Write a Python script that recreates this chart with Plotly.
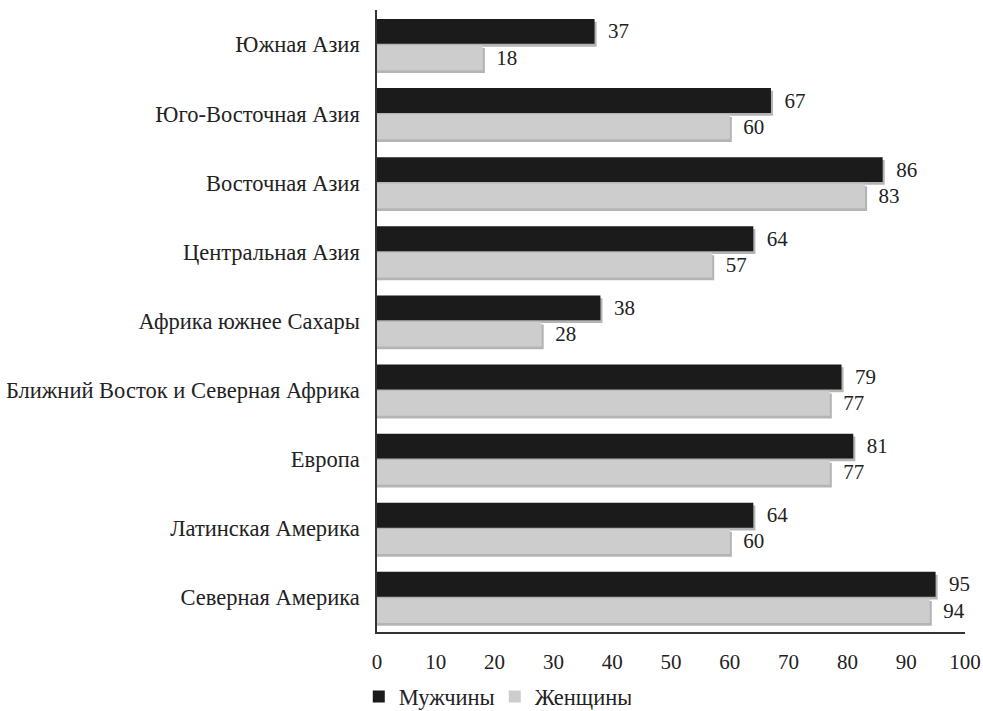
import plotly.graph_objects as go

categories = ["Южная Азия", "Юго-Восточная Азия", "Восточная Азия", "Центральная Азия",
              "Африка южнее Сахары", "Ближний Восток и Северная Африка", "Европа",
              "Латинская Америка", "Северная Америка"]
men = [37, 67, 86, 64, 38, 79, 81, 64, 95]
women = [18, 60, 83, 57, 28, 77, 77, 60, 94]
x_ticks = [0, 10, 20, 30, 40, 50, 60, 70, 80, 90, 100]

ypos = list(range(len(categories)))
FONT = "'Times New Roman', 'Liberation Serif', serif"
BW = 0.36
FS_NUM = 21
FS_TXT = 22.5

fig = go.Figure()
# soft shadows under the bars
for vals, off in [(men, -0.37), (women, 0.01)]:
    fig.add_trace(go.Bar(
        y=ypos, x=[v + 0.35 for v in vals], orientation="h",
        offset=off + 0.04, width=BW, base=0,
        marker=dict(color="rgba(40,40,40,0.35)", line=dict(width=0)),
        showlegend=False, hoverinfo="skip"))
fig.add_trace(go.Bar(
    y=ypos, x=men, orientation="h", name="Мужчины",
    offset=-0.37, width=BW,
    marker=dict(color="#1b1b1b", line=dict(width=0)),
    text=[str(v) for v in men], texttemplate="  %{text}", textposition="outside",
    textfont=dict(family=FONT, size=FS_NUM, color="#222"), cliponaxis=False))
fig.add_trace(go.Bar(
    y=ypos, x=women, orientation="h", name="Женщины",
    offset=0.01, width=BW,
    marker=dict(color="#cdcdcd", line=dict(width=0)),
    text=[str(v) for v in women], texttemplate="  %{text}", textposition="outside",
    textfont=dict(family=FONT, size=FS_NUM, color="#222"), cliponaxis=False))

fig.update_layout(
    width=983, height=711,
    margin=dict(l=377, r=18, t=10, b=79, autoexpand=False),
    barmode="overlay",
    plot_bgcolor="white", paper_bgcolor="white",
    font=dict(family=FONT, size=FS_TXT, color="#222"),
    showlegend=True,
    legend=dict(orientation="h", x=-0.031, xanchor="left", yref="container",
                y=0.02, yanchor="middle",
                font=dict(family=FONT, size=FS_TXT, color="#222"),
                traceorder="normal", itemwidth=30, entrywidth=91),
    xaxis=dict(range=[0, 100], tickvals=x_ticks, showgrid=False, zeroline=False,
               showline=True, linecolor="#333", linewidth=1.5, ticks="",
               tickfont=dict(family=FONT, size=FS_NUM, color="#222"), ticklabelstandoff=10),
    yaxis=dict(range=[8.5, -0.5], tickvals=ypos, ticktext=categories, showgrid=False,
               zeroline=False, showline=True, linecolor="#333", linewidth=1.5, ticks="",
               tickfont=dict(family=FONT, size=FS_TXT, color="#222"), ticklabelstandoff=11),
)

fig.write_html("out.html")
